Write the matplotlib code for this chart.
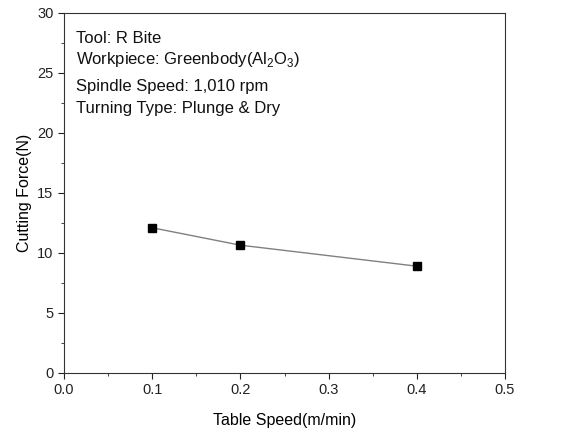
import matplotlib
matplotlib.use('Agg')
import matplotlib.pyplot as plt
from matplotlib.ticker import MultipleLocator

plt.rcParams['font.family'] = ['Liberation Sans', 'DejaVu Sans']
plt.rcParams['mathtext.fontset'] = 'custom'
plt.rcParams['mathtext.rm'] = 'Liberation Sans'

# data
table_speed = [0.1, 0.2, 0.4]
cutting_force = [12.1, 10.65, 8.9]

info_lines = [
    'Tool: R Bite',
    r'Workpiece: Greenbody(Al$_\mathrm{2}$O$_\mathrm{3}$)',
    'Spindle Speed: 1,010 rpm',
    'Turning Type: Plunge & Dry',
]

fig = plt.figure(figsize=(5.69, 4.32), dpi=100)
ax = fig.add_axes([0.1125, 0.1366, 0.775, 0.8334])

ax.plot(table_speed, cutting_force, '-', color='#808080', lw=1)
ax.plot(table_speed, cutting_force, 's', color='black', ms=6)

ax.set_xlim(0, 0.5)
ax.set_ylim(0, 30)
ax.xaxis.set_major_locator(MultipleLocator(0.1))
ax.xaxis.set_minor_locator(MultipleLocator(0.05))
ax.yaxis.set_major_locator(MultipleLocator(5))
ax.yaxis.set_minor_locator(MultipleLocator(2.5))
ax.xaxis.set_major_formatter(plt.FuncFormatter(lambda v, p: '%.1f' % v))
ax.tick_params(which='both', direction='out', labelsize=10.5, colors='#222222')
ax.tick_params(which='major', length=4)
ax.tick_params(which='minor', length=2.5)
for s in ax.spines.values():
    s.set_color('#333333')

ax.set_xlabel('Table Speed(m/min)', fontsize=11.5, labelpad=11)
ax.set_ylabel('Cutting Force(N)', fontsize=11.5, labelpad=4)

ys = [0.93, 0.87, 0.795, 0.735]
for t, yy in zip(info_lines, ys):
    ax.text(0.027, yy, t, transform=ax.transAxes, fontsize=12, va='center', ha='left', color='#111111')

fig.savefig('out.png', dpi=100)
